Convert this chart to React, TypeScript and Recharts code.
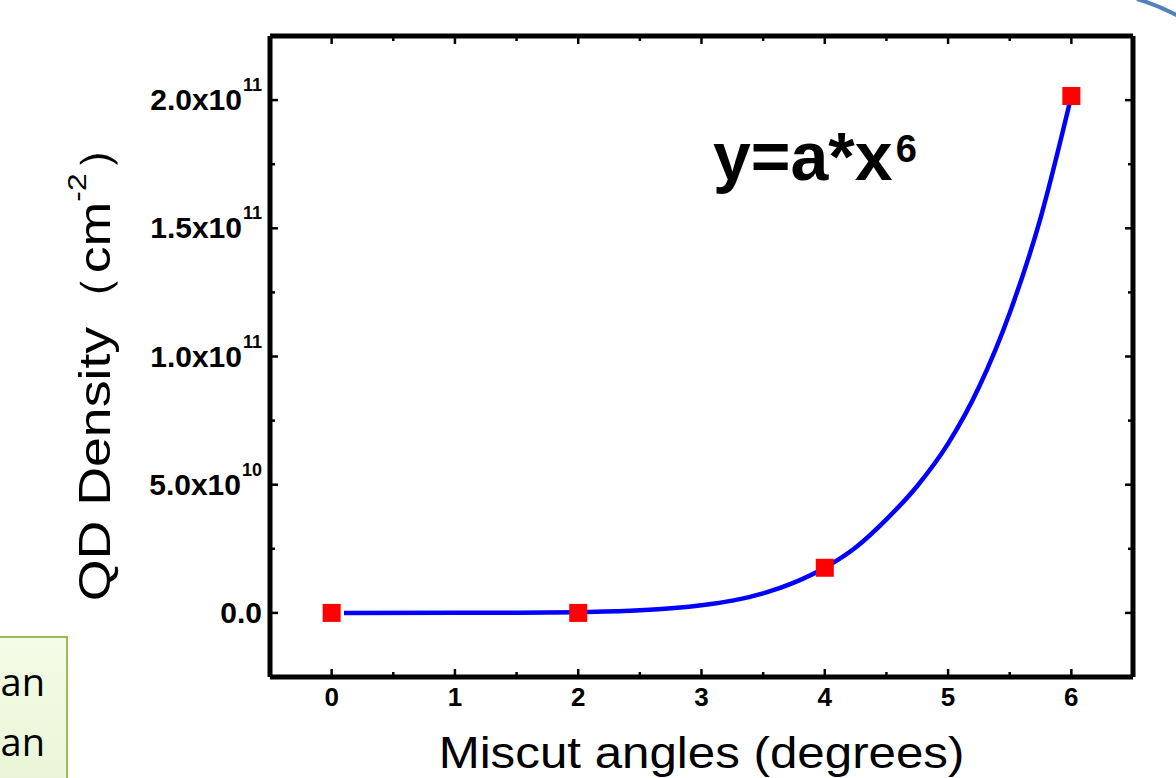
import React from "react";
import {
  ComposedChart,
  Line,
  Scatter,
  XAxis,
  YAxis,
} from "recharts";

// measured points (red squares)
const angleValues = [0, 2, 4, 6];
const densityValues = [0, 0, 1.76e10, 2.016e11];

// fitted curve y = a*x^6
const fitAngles = [0.1, 1, 1.5, 2, 2.5, 3, 3.25, 3.5, 3.75, 4, 4.25, 4.5, 4.75, 5, 5.25, 5.5, 5.75, 6];
const fitDensity = [0, 1e7, 5e7, 3e8, 1.0e9, 3.0e9, 4.8e9, 7.6e9, 1.18e10, 1.76e10, 2.55e10, 3.65e10, 4.95e10, 6.6e10, 8.8e10, 1.17e11, 1.54e11, 2.016e11];

const xTicks = [0, 0.5, 1, 1.5, 2, 2.5, 3, 3.5, 4, 4.5, 5, 5.5, 6];
const xTickLabels = ["0", "1", "2", "3", "4", "5", "6"];

const yTicks = [0, 2.5e10, 5e10, 7.5e10, 1e11, 1.25e11, 1.5e11, 1.75e11, 2e11];
const yMajorTicks = [0, 5e10, 1e11, 1.5e11, 2e11];
const yTickMantissa = ["0.0", "5.0x10", "1.0x10", "1.5x10", "2.0x10"];
const yTickExponent = ["", "10", "11", "11", "11"];

const points = angleValues.map((x, i) => ({ x, y: densityValues[i] }));
const fit = fitAngles.map((x, i) => ({ x, y: fitDensity[i] }));

const FONT = "Arial, 'Liberation Sans', Helvetica, sans-serif";

const BottomTick = (props: any) => {
  const { x, y, payload } = props;
  const major = Number.isInteger(payload.value);
  return (
    <g>
      <line x1={x} x2={x} y1={y} y2={y - (major ? 8 : 5)} stroke="#000" strokeWidth={2.5} />
      {major && (
        <text x={x} y={y + 29} textAnchor="middle" fontFamily={FONT} fontWeight="bold" fontSize={26} fill="#000">
          {xTickLabels[payload.value]}
        </text>
      )}
    </g>
  );
};

const TopTick = (props: any) => {
  const { x, y, payload } = props;
  const major = Number.isInteger(payload.value);
  return <line x1={x} x2={x} y1={y} y2={y + (major ? 8 : 5)} stroke="#000" strokeWidth={2.5} />;
};

const LeftTick = (props: any) => {
  const { x, y, payload } = props;
  const idx = yMajorTicks.indexOf(payload.value);
  const major = idx >= 0;
  return (
    <g>
      <line x1={x} x2={x + (major ? 8 : 5)} y1={y} y2={y} stroke="#000" strokeWidth={2.5} />
      {major && (
        <text x={x - 8} y={y + 10} textAnchor="end" fontFamily={FONT} fontWeight="bold" fontSize={30} fill="#000">
          {yTickMantissa[idx]}
          {yTickExponent[idx] && (
            <tspan fontSize={18} dy={-19} dx={1}>
              {yTickExponent[idx]}
            </tspan>
          )}
        </text>
      )}
    </g>
  );
};

const RightTick = (props: any) => {
  const { x, y, payload } = props;
  const major = yMajorTicks.indexOf(payload.value) >= 0;
  return <line x1={x} x2={x - (major ? 8 : 5)} y1={y} y2={y} stroke="#000" strokeWidth={2.5} />;
};

const Square = (props: any) => {
  const { cx, cy } = props;
  const s = 18;
  return <rect x={cx - s / 2} y={cy - s / 2} width={s} height={s} fill="#ff0000" />;
};

const XLabel = (props: any) => {
  const { viewBox } = props;
  const cx = viewBox.x + viewBox.width / 2;
  const cy = viewBox.y + 91;
  return (
    <text
      transform={`translate(${cx}, ${cy}) scale(1.12, 1)`}
      textAnchor="middle"
      fontFamily={FONT}
      fontSize={44}
      fill="#000"
    >
      Miscut angles (degrees)
    </text>
  );
};

const YLabel = (props: any) => {
  const { viewBox } = props;
  const cx = viewBox.x + 25;
  const cy = viewBox.y + viewBox.height / 2 + 4;
  return (
    <text
      transform={`translate(${cx}, ${cy}) rotate(-90) scale(1.22, 1)`}
      textAnchor="middle"
      dominantBaseline="central"
      fontFamily={FONT}
      fontSize={44}
      fill="#000"
    >
      QD Density（cm
      <tspan fontSize={26} dy={-18}>-2</tspan>
      <tspan dy={18}>）</tspan>
    </text>
  );
};

const hidden = () => null;

export default function App() {
  return (
    <div style={{ position: "absolute", left: 0, top: 0, width: 1176, height: 778, background: "#fff", overflow: "hidden" }}>
      <ComposedChart
        width={1176}
        height={778}
        margin={{ top: 35, right: 42, bottom: 41, left: 70 }}
      >
        <XAxis
          xAxisId={0}
          type="number"
          dataKey="x"
          domain={[-0.5, 6.5]}
          allowDataOverflow
          ticks={xTicks}
          interval={0}
          height={60}
          tickSize={0}
          tickMargin={0}
          tickLine={false}
          axisLine={{ stroke: "#000", strokeWidth: 5 }}
          tick={<BottomTick />}
          label={<XLabel />}
        />
        <XAxis
          xAxisId="top"
          orientation="top"
          type="number"
          dataKey="x"
          domain={[-0.5, 6.5]}
          allowDataOverflow
          ticks={xTicks}
          interval={0}
          height={1}
          tickSize={0}
          tickMargin={0}
          tickLine={false}
          axisLine={{ stroke: "#000", strokeWidth: 5 }}
          tick={<TopTick />}
        />
        <YAxis
          yAxisId={0}
          type="number"
          domain={[-2.5e10, 2.25e11]}
          allowDataOverflow
          ticks={yTicks}
          interval={0}
          width={200}
          tickSize={0}
          tickMargin={0}
          tickLine={false}
          axisLine={{ stroke: "#000", strokeWidth: 5 }}
          tick={<LeftTick />}
          label={<YLabel />}
        />
        <YAxis
          yAxisId="right"
          orientation="right"
          type="number"
          domain={[-2.5e10, 2.25e11]}
          allowDataOverflow
          ticks={yTicks}
          interval={0}
          width={1}
          tickSize={0}
          tickMargin={0}
          tickLine={false}
          axisLine={{ stroke: "#000", strokeWidth: 5 }}
          tick={<RightTick />}
        />
        {/* invisible series so the frame axes (top/right) are drawn */}
        <Scatter
          data={points}
          dataKey="y"
          xAxisId="top"
          yAxisId="right"
          shape={hidden}
          isAnimationActive={false}
        />
        <Scatter
          data={points}
          dataKey="y"
          xAxisId={0}
          yAxisId={0}
          shape={<Square />}
          isAnimationActive={false}
        />
        <Line
          data={fit}
          dataKey="y"
          xAxisId={0}
          yAxisId={0}
          type="monotone"
          stroke="#0000ff"
          strokeWidth={4.5}
          dot={false}
          activeDot={false}
          isAnimationActive={false}
        />
      </ComposedChart>

      <svg width={1176} height={778} style={{ position: "absolute", left: 0, top: 0, pointerEvents: "none" }}>
        <text x={713} y={180} fontFamily={FONT} fontWeight="bold" fontSize={68} fill="#000">
          y=a*x
          <tspan fontSize={38} dy={-18} dx={3}>6</tspan>
        </text>
        <path d="M 1137 -1 Q 1158 5 1180 17" fill="none" stroke="#4f81bd" strokeWidth={4} />
      </svg>

      <div
        style={{
          position: "absolute",
          left: -10,
          top: 636,
          width: 74,
          height: 160,
          background: "linear-gradient(#f3fce7, #e8f5d4)",
          border: "2px solid #9bbb59",
          fontFamily: "'Open Sans', 'Liberation Sans', sans-serif",
          fontSize: 38,
          color: "#000",
        }}
      >
        <div style={{ position: "absolute", right: 21, top: 18, lineHeight: "50px" }}>an</div>
        <div style={{ position: "absolute", right: 21, top: 78, lineHeight: "50px" }}>an</div>
      </div>
    </div>
  );
}
